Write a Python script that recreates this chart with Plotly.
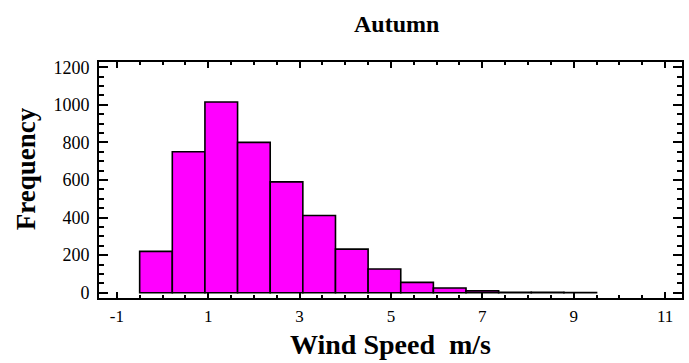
import plotly.graph_objects as go

# Histogram of autumn wind speeds: 14 equal bins from -0.5 to 9.5 m/s
bin_start = -0.5
bin_end = 9.5
counts = [220, 750, 1015, 800, 590, 411, 232, 126, 55, 25, 10, 3, 2, 1]

n_bins = len(counts)
bin_width = (bin_end - bin_start) / n_bins
bin_edges = [bin_start + i * bin_width for i in range(n_bins + 1)]
bin_centers = [(bin_edges[i] + bin_edges[i + 1]) / 2 for i in range(n_bins)]

x_ticks = [-1, 1, 3, 5, 7, 9, 11]
y_ticks = [0, 200, 400, 600, 800, 1000, 1200]

serif = "Liberation Serif"

fig = go.Figure(
    go.Bar(
        x=bin_centers,
        y=counts,
        width=[bin_width] * n_bins,
        marker=dict(color="#FF00FF", line=dict(color="black", width=1.6)),
        hoverinfo="x+y",
    )
)

fig.update_layout(
    width=689,
    height=363,
    margin=dict(l=99, r=5, t=62, b=65),
    paper_bgcolor="white",
    plot_bgcolor="white",
    showlegend=False,
    font=dict(family=serif, color="black", size=17),
)

# Plot area spans 585 x 236 px; titles are placed in paper fractions of it
fig.add_annotation(text="<b>Autumn</b>", xref="paper", yref="paper",
                   x=(398 - 99) / 585, y=1 + (62 - 24) / 236,
                   xanchor="center", yanchor="middle", showarrow=False,
                   font=dict(size=24, family=serif))
fig.add_annotation(text="<b>Wind Speed  m/s</b>", xref="paper", yref="paper",
                   x=0.5, y=-(344 - 298) / 236,
                   xanchor="center", yanchor="middle", showarrow=False,
                   font=dict(size=28, family=serif))
fig.add_annotation(text="<b>Frequency</b>", xref="paper", yref="paper",
                   x=-(99 - 26) / 585, y=(298 - 169) / 236,
                   xanchor="center", yanchor="middle", textangle=-90,
                   showarrow=False, font=dict(size=27, family=serif))

fig.update_xaxes(
    range=[-1.39, 11.37],
    tickmode="array",
    tickvals=x_ticks,
    ticktext=[str(v) for v in x_ticks],
    ticks="inside",
    ticklen=6,
    tickwidth=2,
    tickcolor="black",
    minor=dict(dtick=0.5, tick0=-1, ticks="inside", ticklen=3,
               tickwidth=1.5, tickcolor="black", showgrid=False),
    showline=True,
    linewidth=2,
    linecolor="black",
    mirror="ticks",
    showgrid=False,
    zeroline=False,
    ticklabelstandoff=2,
    tickfont=dict(family=serif, size=17),
)

fig.update_yaxes(
    range=[-28, 1228],
    tickmode="array",
    tickvals=y_ticks,
    ticks="inside",
    ticklen=9,
    tickwidth=2,
    tickcolor="black",
    minor=dict(dtick=50, tick0=0, ticks="inside", ticklen=5,
               tickwidth=1.5, tickcolor="black", showgrid=False),
    showline=True,
    linewidth=2,
    linecolor="black",
    mirror="ticks",
    showgrid=False,
    zeroline=False,
    ticklabelstandoff=4,
    tickfont=dict(family=serif, size=18),
)

fig.write_html("out.html")
